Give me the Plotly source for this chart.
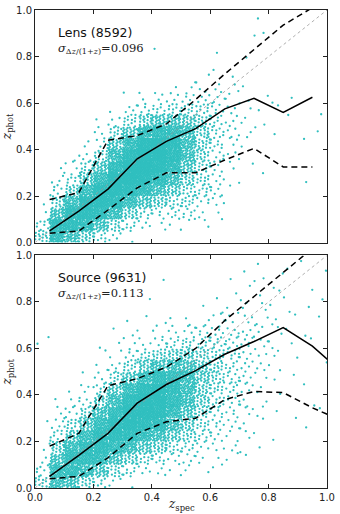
import plotly.graph_objects as go

# ---------------- data ----------------
# bin centres (z_spec) of the running statistics
bin_x_lens = [0.05, 0.15, 0.25, 0.35, 0.45, 0.55, 0.65, 0.75, 0.85, 0.95]
bin_x_src = [0.05, 0.15, 0.25, 0.35, 0.45, 0.55, 0.65, 0.75, 0.85, 0.95, 1.05]

lens_median = [0.05, 0.135, 0.23, 0.36, 0.435, 0.49, 0.575, 0.62, 0.56, 0.625]
lens_upper = [0.185, 0.215, 0.44, 0.46, 0.51, 0.615, 0.725, 0.83, 0.935, 1.01]
lens_lower = [0.04, 0.05, 0.14, 0.235, 0.30, 0.30, 0.355, 0.405, 0.325, 0.325]

src_median = [0.05, 0.14, 0.235, 0.365, 0.445, 0.505, 0.575, 0.63, 0.69, 0.61, 0.50]
src_upper = [0.18, 0.235, 0.44, 0.47, 0.52, 0.60, 0.72, 0.825, 0.93, 1.03, 1.12]
src_lower = [0.04, 0.05, 0.13, 0.235, 0.285, 0.30, 0.38, 0.415, 0.41, 0.345, 0.29]

# approximate visible point counts per cell: one row per z_spec column
# (width 0.05), entries over z_phot rows (width 0.05) from 0 to 1
cell = 0.05
lens_counts = [
    [15, 8, 2, 1, 0, 0, 0, 0, 0, 0, 0, 0, 0, 0, 0, 0, 0, 0, 0, 0],
    [60, 70, 35, 15, 6, 3, 1, 0, 0, 0, 0, 0, 0, 0, 0, 0, 0, 0, 0, 0],
    [40, 80, 80, 45, 20, 8, 3, 1, 0, 0, 0, 0, 0, 0, 0, 0, 0, 0, 0, 0],
    [20, 60, 90, 85, 50, 25, 10, 4, 2, 0, 0, 0, 0, 0, 0, 0, 0, 0, 0, 0],
    [10, 35, 75, 100, 90, 55, 30, 15, 6, 3, 1, 0, 0, 0, 0, 0, 0, 0, 0, 0],
    [4, 15, 45, 80, 110, 100, 70, 45, 25, 12, 4, 1, 0, 0, 0, 0, 0, 0, 0, 0],
    [1, 8, 20, 50, 90, 120, 110, 85, 55, 30, 12, 4, 1, 0, 0, 0, 0, 0, 0, 0],
    [0, 4, 10, 30, 60, 100, 130, 130, 95, 55, 20, 6, 2, 0, 0, 0, 0, 0, 0, 0],
    [0, 2, 5, 20, 40, 70, 100, 120, 110, 70, 30, 8, 3, 0, 0, 0, 1, 0, 0, 0],
    [0, 2, 7, 12, 25, 40, 60, 80, 85, 60, 30, 10, 4, 1, 0, 0, 0, 0, 0, 0],
    [0, 1, 7, 12, 12, 20, 30, 40, 45, 40, 25, 12, 5, 2, 0, 0, 0, 0, 0, 0],
    [0, 2, 2, 6, 9, 12, 12, 15, 18, 18, 15, 10, 5, 2, 1, 0, 0, 0, 0, 0],
    [0, 0, 2, 4, 5, 5, 5, 6, 8, 8, 8, 6, 4, 2, 1, 0, 1, 0, 0, 0],
    [0, 0, 0, 0, 1, 1, 2, 3, 3, 4, 4, 3, 2, 2, 1, 0, 0, 0, 0, 0],
    [0, 0, 0, 0, 0, 0, 1, 0, 1, 2, 2, 2, 1, 1, 0, 1, 0, 0, 0, 0],
    [0, 0, 0, 0, 0, 1, 0, 0, 0, 1, 1, 1, 1, 0, 0, 0, 0, 1, 1, 1],
    [0, 0, 0, 0, 0, 0, 0, 0, 0, 1, 0, 1, 1, 0, 0, 0, 0, 0, 0, 0],
    [0, 0, 0, 0, 0, 0, 0, 0, 0, 0, 1, 0, 1, 0, 0, 0, 0, 0, 0, 0],
    [0, 0, 0, 0, 0, 1, 0, 0, 1, 0, 0, 0, 0, 0, 0, 0, 0, 0, 0, 0],
    [0, 0, 0, 0, 0, 0, 0, 0, 0, 1, 0, 1, 0, 0, 0, 0, 0, 0, 0, 0],
]
src_counts = [
    [12, 6, 3, 1, 0, 1, 0, 0, 0, 0, 0, 0, 2, 0, 0, 0, 0, 0, 0, 0],
    [45, 55, 35, 20, 8, 4, 2, 1, 0, 0, 0, 0, 0, 0, 0, 0, 0, 0, 0, 0],
    [35, 60, 65, 45, 25, 12, 5, 2, 1, 0, 0, 0, 0, 0, 0, 0, 0, 0, 0, 0],
    [15, 45, 70, 70, 50, 30, 15, 6, 3, 1, 0, 0, 0, 0, 0, 0, 0, 0, 0, 0],
    [8, 30, 55, 75, 75, 55, 35, 20, 10, 4, 2, 1, 1, 0, 0, 0, 0, 0, 0, 0],
    [3, 15, 35, 60, 85, 85, 65, 45, 25, 12, 5, 2, 1, 1, 0, 0, 0, 0, 0, 0],
    [1, 8, 20, 45, 75, 100, 100, 80, 50, 28, 12, 5, 2, 1, 1, 0, 0, 0, 0, 0],
    [0, 4, 12, 30, 55, 85, 110, 110, 85, 50, 25, 10, 3, 1, 1, 0, 1, 0, 0, 0],
    [0, 3, 8, 20, 40, 65, 90, 100, 95, 70, 35, 15, 5, 2, 1, 0, 0, 1, 0, 0],
    [0, 2, 5, 12, 25, 40, 55, 70, 75, 65, 40, 20, 8, 3, 1, 0, 0, 0, 0, 0],
    [0, 2, 4, 8, 15, 22, 30, 40, 45, 45, 35, 22, 10, 4, 2, 0, 0, 0, 0, 0],
    [0, 1, 3, 5, 8, 12, 15, 20, 22, 25, 22, 16, 10, 5, 2, 1, 0, 0, 0, 0],
    [0, 1, 2, 3, 5, 6, 8, 10, 12, 14, 14, 12, 9, 5, 3, 1, 1, 0, 0, 0],
    [0, 0, 2, 2, 3, 4, 5, 6, 7, 8, 8, 8, 7, 5, 3, 2, 1, 1, 0, 0],
    [0, 0, 1, 1, 2, 2, 3, 3, 4, 4, 5, 5, 5, 4, 3, 2, 1, 1, 1, 0],
    [0, 0, 0, 1, 1, 1, 1, 2, 2, 2, 3, 3, 3, 3, 2, 2, 1, 1, 1, 1],
    [0, 0, 0, 0, 1, 0, 1, 0, 1, 1, 2, 2, 2, 2, 2, 1, 1, 1, 1, 0],
    [0, 0, 0, 0, 0, 0, 1, 0, 0, 1, 0, 1, 1, 1, 1, 1, 1, 0, 1, 0],
    [0, 0, 0, 0, 0, 1, 0, 0, 1, 0, 0, 0, 1, 1, 0, 1, 0, 1, 0, 1],
    [0, 0, 0, 0, 0, 0, 1, 1, 0, 0, 1, 0, 0, 0, 1, 0, 1, 0, 1, 0],
]

panel_names = ["Lens (8592)", "Source (9631)"]
panel_sigma = ["0.096", "0.113"]
tick_vals = [0.0, 0.2, 0.4, 0.6, 0.8, 1.0]
tick_text = ["0.0", "0.2", "0.4", "0.6", "0.8", "1.0"]


def spread(counts):
    """Place each cell's count evenly (low-discrepancy lattice) inside its cell."""
    xs, ys = [], []
    a1, a2 = 0.7548776662, 0.5698402910
    for i, col in enumerate(counts):
        for j, n in enumerate(col):
            s1 = (i * 0.3183 + j * 0.6180) % 1.0
            s2 = (i * 0.4142 + j * 0.2361) % 1.0
            for k in range(1, n + 1):
                u = (s1 + k * a1) % 1.0
                v = (s2 + k * a2) % 1.0
                xs.append((i + u) * cell)
                ys.append((j + v) * cell)
    return xs, ys


PT = "#30bfbf"
fig = go.Figure()

panels = [
    ("x2", "y2", lens_counts, bin_x_lens, lens_median, lens_upper, lens_lower),
    ("x", "y", src_counts, bin_x_src, src_median, src_upper, src_lower),
]
for xa, ya, counts, bx, med, up, lo in panels:
    px, py = spread(counts)
    fig.add_trace(go.Scatter(x=px, y=py, mode="markers", xaxis=xa, yaxis=ya,
                             marker=dict(size=2.3, color=PT, line=dict(width=0)),
                             showlegend=False, hoverinfo="skip"))
    fig.add_trace(go.Scatter(x=[0, 1], y=[0, 1], mode="lines", xaxis=xa, yaxis=ya,
                             line=dict(color="#999999", width=0.8, dash="dot"),
                             showlegend=False, hoverinfo="skip"))
    for arr, dash in ((med, "solid"), (up, "6px,4px"), (lo, "6px,4px")):
        fig.add_trace(go.Scatter(x=bx, y=arr, mode="lines", xaxis=xa, yaxis=ya,
                                 line=dict(color="black", width=1.5, dash=dash),
                                 showlegend=False, hoverinfo="skip"))

H_PLOT = 483.0
top_lo = 248.0 / H_PLOT
bot_hi = 235.0 / H_PLOT

axis_common = dict(range=[0, 1], showgrid=False, zeroline=False, showline=True,
                   linecolor="#222222", linewidth=1, mirror="ticks", ticks="inside",
                   ticklen=4, tickwidth=1, tickcolor="#222222",
                   tickvals=tick_vals, ticktext=tick_text,
                   tickfont=dict(family="DejaVu Sans", size=10, color="#222222"))

fig.update_layout(
    width=340, height=514,
    margin=dict(l=35, r=9, t=5, b=26),
    paper_bgcolor="white", plot_bgcolor="white",
    xaxis=dict(axis_common, domain=[0, 1], anchor="y"),
    yaxis=dict(axis_common, domain=[0, bot_hi], anchor="x"),
    xaxis2=dict(axis_common, domain=[0, 1], anchor="y2", showticklabels=False),
    yaxis2=dict(axis_common, domain=[top_lo, 1], anchor="x2"),
)

annots = []
serif = dict(family="DejaVu Serif", size=11.5, color="#222222")
name_y = [0.902, 0.907]
sigma_y = [0.833, 0.838]
for k, (yref, ycen) in enumerate((("y2 domain", 0.7567), ("y domain", 0.2433))):
    xr = "x2 domain" if k == 0 else "x domain"
    annots.append(dict(xref=xr, yref=yref,
                       x=0.071, y=name_y[k], xanchor="left", yanchor="middle",
                       text=panel_names[k], showarrow=False,
                       font=dict(family="DejaVu Sans", size=12.5, color="#111111")))
    annots.append(dict(xref=xr, yref=yref,
                       x=0.071, y=sigma_y[k], xanchor="left", yanchor="middle",
                       text="<i>σ</i><sub>Δ<i>z</i>/(1+<i>z</i>)</sub>=" + panel_sigma[k],
                       showarrow=False, font=serif))
    annots.append(dict(xref="paper", yref="paper", x=-0.093, y=ycen,
                       xanchor="center", yanchor="middle", textangle=-90,
                       text="<i>z</i><sub>phot</sub>", showarrow=False,
                       font=dict(family="DejaVu Serif", size=12, color="#222222")))
annots.append(dict(xref="paper", yref="paper", x=0.5, y=-0.036,
                   xanchor="center", yanchor="middle",
                   text="<i>z</i><sub>spec</sub>", showarrow=False,
                   font=dict(family="DejaVu Serif", size=12, color="#222222")))
fig.update_layout(annotations=annots)

fig.write_html("out.html")
